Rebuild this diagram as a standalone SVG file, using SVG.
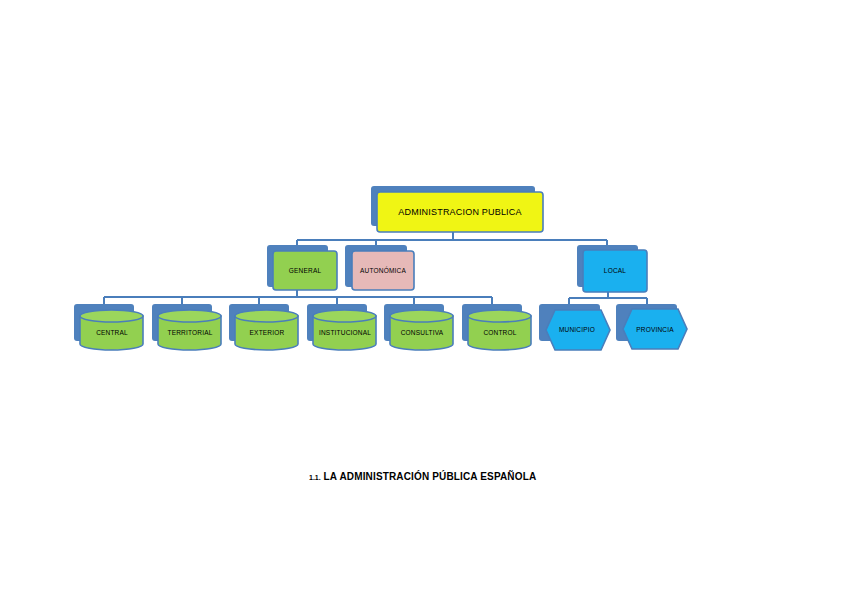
<svg xmlns="http://www.w3.org/2000/svg" width="848" height="600" viewBox="0 0 848 600">
<style>
.bk{fill:#4f81bd;}
.fr{stroke:#4a7ebb;stroke-width:1.6;}
.ln{fill:none;stroke:#4a7ebb;stroke-width:2;}
.t{font-family:"Liberation Sans",Arial,sans-serif;font-size:6.5px;fill:#000;text-anchor:middle;letter-spacing:0.2px;}
.cy{fill:#92d050;stroke:#4a7ebb;stroke-width:1.6;}
.cyt{fill:#9bd65c;stroke:#4a7ebb;stroke-width:1.6;}
</style>
<rect width="848" height="600" fill="#fff"/>
<g id="connectors">
<path class="ln" d="M453 232V240M297 240H607M297 240V246M376 240V246M607 240V246"/>
<path class="ln" d="M297 290V297M104 297H492M104 297V304M182 297V304M259 297V304M337 297V304M414 297V304M492 297V304"/>
<path class="ln" d="M608 292V298M569 298H647M569 298V304M647 298V304"/>
</g>
<g id="admin">
<rect class="bk" x="371" y="186" width="164" height="40" rx="3"/>
<rect class="fr" x="377" y="192" width="166" height="40" rx="3" fill="#f0f514"/>
<text class="t" x="460" y="215" style="font-size:9px">ADMINISTRACION PUBLICA</text>
</g>
<g id="general">
<rect class="bk" x="267" y="245" width="61" height="42" rx="3"/>
<rect class="fr" x="273" y="251" width="64" height="39" rx="3" fill="#92d050"/>
<text class="t" x="305" y="273">GENERAL</text>
</g>
<g id="autonomica">
<rect class="bk" x="345" y="245" width="62" height="42" rx="3"/>
<rect class="fr" x="352" y="251" width="62" height="39" rx="3" fill="#e6b9b8"/>
<text class="t" x="383" y="273">AUTONÓMICA</text>
</g>
<g id="local">
<rect class="bk" x="577" y="245" width="61" height="42" rx="3"/>
<rect class="fr" x="583" y="250" width="64" height="42" rx="3" fill="#1ab0ef"/>
<text class="t" x="615" y="273">LOCAL</text>
</g>
<g id="central">
<rect class="bk" x="74" y="304" width="60" height="37" rx="3"/>
<path class="cy" d="M80 316V344A31.5 6 0 0 0 143 344V316Z"/>
<ellipse class="cyt" cx="111.5" cy="316" rx="31.5" ry="6"/>
<text class="t" x="112" y="335">CENTRAL</text>
</g>
<g id="territorial">
<rect class="bk" x="152" y="304" width="60" height="37" rx="3"/>
<path class="cy" d="M158 316V344A31.5 6 0 0 0 221 344V316Z"/>
<ellipse class="cyt" cx="189.5" cy="316" rx="31.5" ry="6"/>
<text class="t" x="190" y="335">TERRITORIAL</text>
</g>
<g id="exterior">
<rect class="bk" x="229" y="304" width="60" height="37" rx="3"/>
<path class="cy" d="M235 316V344A31.5 6 0 0 0 298 344V316Z"/>
<ellipse class="cyt" cx="266.5" cy="316" rx="31.5" ry="6"/>
<text class="t" x="267" y="335">EXTERIOR</text>
</g>
<g id="institucional">
<rect class="bk" x="307" y="304" width="60" height="37" rx="3"/>
<path class="cy" d="M313 316V344A31.5 6 0 0 0 376 344V316Z"/>
<ellipse class="cyt" cx="344.5" cy="316" rx="31.5" ry="6"/>
<text class="t" x="345" y="335">INSTITUCIONAL</text>
</g>
<g id="consultiva">
<rect class="bk" x="384" y="304" width="60" height="37" rx="3"/>
<path class="cy" d="M390 316V344A31.5 6 0 0 0 453 344V316Z"/>
<ellipse class="cyt" cx="421.5" cy="316" rx="31.5" ry="6"/>
<text class="t" x="422" y="335">CONSULTIVA</text>
</g>
<g id="control">
<rect class="bk" x="462" y="304" width="60" height="37" rx="3"/>
<path class="cy" d="M468 316V344A31.5 6 0 0 0 531 344V316Z"/>
<ellipse class="cyt" cx="499.5" cy="316" rx="31.5" ry="6"/>
<text class="t" x="500" y="335">CONTROL</text>
</g>
<g id="municipio">
<rect class="bk" x="539" y="304" width="61" height="37" rx="3"/>
<polygon class="fr" fill="#1ab0ef" points="546,330 555,310 601,310 610,330 601,350 555,350"/>
<text class="t" x="577" y="332">MUNICIPIO</text>
</g>
<g id="provincia">
<rect class="bk" x="616" y="304" width="61" height="37" rx="3"/>
<polygon class="fr" fill="#1ab0ef" points="623,329 632,309 678,309 687,329 678,349 632,349"/>
<text class="t" x="655" y="332">PROVINCIA</text>
</g>
<text x="309" y="480" style="font-family:'Liberation Sans',Arial,sans-serif;font-weight:bold;font-size:10px;fill:#000;letter-spacing:0.15px"><tspan style="font-size:7px;letter-spacing:0">1.1.</tspan> LA ADMINISTRACIÓN PÚBLICA ESPAÑOLA</text>
</svg>
